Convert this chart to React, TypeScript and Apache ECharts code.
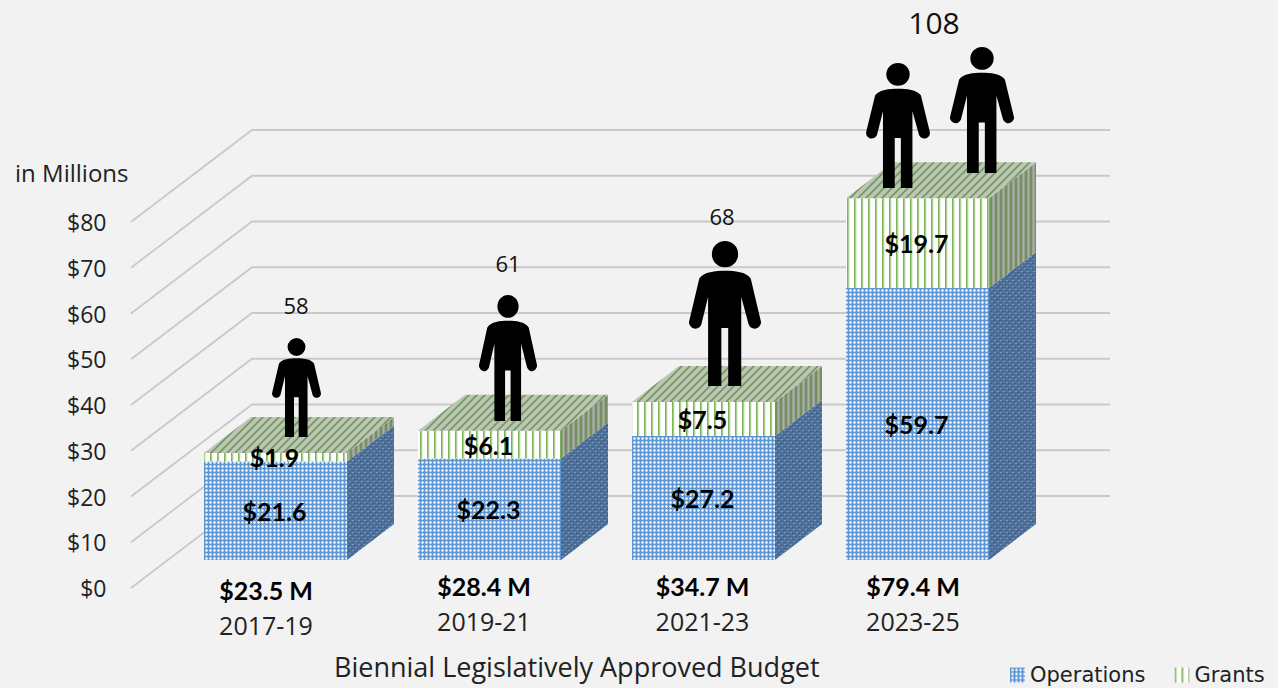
import React, { useEffect, useRef } from "react";
import * as echarts from "echarts";

const categories = ["2017-19", "2019-21", "2021-23", "2023-25"];
const operations = [21.6, 22.3, 27.2, 59.7];
const grants = [1.9, 6.1, 7.5, 19.7];
const totals = [23.5, 28.4, 34.7, 79.4];
const staffCounts = [58, 61, 68, 108];
const yTicks = [0, 10, 20, 30, 40, 50, 60, 70, 80];

// decoration layout (not data): figures and their count captions
const figures = [
  { x: 272, y: 338, w: 49, h: 99 },
  { x: 479, y: 295, w: 58, h: 126 },
  { x: 689, y: 241, w: 72, h: 145 },
  { x: 866, y: 63, w: 64, h: 125 },
  { x: 950, y: 47, w: 64, h: 126 },
];
const captions = [
  { x: 296, y: 305, size: 22 },
  { x: 508, y: 263, size: 22 },
  { x: 722, y: 216, size: 22 },
  { x: 934, y: 22, size: 30 },
];
const totalShift = [19, 11, 2, 9];

const SANS = '"Open Sans", sans-serif';
const BOLD = 'Lato, sans-serif';
const LEGEND_FONT = '"DejaVu Sans", sans-serif';
const DEPTH_X = 47;
const DEPTH_Y = 36;

const personPath =
  "M20 11.5 A11.5 11.5 0 1 1 43 11.5 A11.5 11.5 0 1 1 20 11.5 Z " +
  "M31.5 26 C40 26 50 27 54 32.7 L62.6 69 A5.4 5.4 0 0 1 52.2 73 L45.7 49 L45.7 126.7 L34.3 126.7 L34.3 76 L28.3 76 L28.3 126.7 L16.7 126.7 L16.7 49 L10.8 73 A5.4 5.4 0 0 1 0.4 69 L9 32.7 C13 27 23 26 31.5 26 Z";
echarts.graphic.registerShape("person", echarts.graphic.extendPath(personPath, {}) as any);

function tile(size: number, draw: (c: CanvasRenderingContext2D) => void) {
  const canvas = document.createElement("canvas");
  canvas.width = size;
  canvas.height = size;
  draw(canvas.getContext("2d") as CanvasRenderingContext2D);
  return { image: canvas, repeat: "repeat", imageWidth: size, imageHeight: size } as any;
}

function makePatterns() {
  const opsFront = tile(4, (c) => {
    c.fillStyle = "#8ab3df";
    c.fillRect(0, 0, 4, 4);
    c.fillStyle = "#5f96d0";
    c.fillRect(0, 0, 1, 4);
    c.fillRect(0, 0, 4, 1);
    c.fillStyle = "#f4f8fc";
    c.fillRect(2, 2, 1, 1);
    c.fillStyle = "#d5e4f4";
    c.fillRect(1, 2, 1, 1);
    c.fillRect(2, 1, 1, 1);
    c.fillRect(3, 2, 1, 1);
    c.fillRect(2, 3, 1, 1);
  });
  const opsSide = tile(6, (c) => {
    c.fillStyle = "#4f7199";
    c.fillRect(0, 0, 6, 6);
    c.fillStyle = "#7a96b8";
    c.fillRect(1, 1, 2, 1);
    c.fillRect(4, 4, 2, 1);
    c.fillStyle = "#3c5f8e";
    c.fillRect(3, 2, 2, 1);
    c.fillRect(0, 5, 2, 1);
  });
  const grantFront = tile(7, (c) => {
    c.fillStyle = "#ffffff";
    c.fillRect(0, 0, 7, 7);
    c.fillStyle = "#7cb356";
    c.fillRect(0, 0, 1, 7);
    c.fillStyle = "#a9cf92";
    c.fillRect(1, 0, 1, 7);
    c.fillStyle = "#e6f1de";
    c.fillRect(2, 0, 1, 7);
  });
  const grantSide = tile(5, (c) => {
    c.fillStyle = "#979f92";
    c.fillRect(0, 0, 5, 5);
    c.fillStyle = "#74905f";
    c.fillRect(0, 0, 2, 5);
    c.fillStyle = "#adb0a9";
    c.fillRect(3, 0, 1, 5);
  });
  const grantTop = tile(8, (c) => {
    c.fillStyle = "#bfc4b9";
    c.fillRect(0, 0, 8, 8);
    c.strokeStyle = "#6f9a58";
    c.lineWidth = 1.6;
    for (let k = -8; k <= 16; k += 8) {
      c.beginPath();
      c.moveTo(k - 1, 9);
      c.lineTo(k + 9, -1);
      c.stroke();
    }
  });
  return { opsFront, opsSide, grantFront, grantSide, grantTop };
}

function pts(a: number[][]) {
  return a.map((p) => [p[0], p[1]]);
}

function boxSeries(name: string, values: number[], bases: number[], front: any, side: any, top: any) {
  return {
    name,
    type: "custom",
    xAxisIndex: 1,
    yAxisIndex: 1,
    itemStyle: { color: front },
    encode: { x: 0, y: [1, 2] },
    data: values.map((v, i) => [i, bases[i], bases[i] + v, v]),
    renderItem: (_p: any, api: any) => {
      const i = api.value(0);
      const [cx, y0] = api.coord([i, api.value(1)]);
      const [, y1] = api.coord([i, api.value(2)]);
      const half = (api.size([1, 0])[0] * 143) / 214 / 2;
      const l = cx - half;
      const r = cx + half;
      const children: any[] = [
        {
          type: "polygon",
          shape: { points: pts([[r, y0], [r + DEPTH_X, y0 - DEPTH_Y], [r + DEPTH_X, y1 - DEPTH_Y], [r, y1]]) },
          style: { fill: side },
        },
        {
          type: "polygon",
          shape: { points: pts([[l, y0], [r, y0], [r, y1], [l, y1]]) },
          style: { fill: front },
        },
      ];
      if (top) {
        children.push({
          type: "polygon",
          shape: { points: pts([[l, y1], [r, y1], [r + DEPTH_X, y1 - DEPTH_Y], [l + DEPTH_X, y1 - DEPTH_Y]]) },
          style: { fill: top },
        });
      }
      children.push({
        type: "text",
        x: cx - 1,
        y: (y0 + y1) / 2,
        z2: 10,
        style: {
          text: "$" + api.value(3).toFixed(1),
          fill: "#000",
          fontFamily: BOLD,
          fontWeight: "bold",
          fontSize: 25,
          align: "center",
          verticalAlign: "middle",
        },
      });
      return { type: "group", children };
    },
  };
}

export default function App() {
  const ref = useRef<HTMLDivElement>(null);
  useEffect(() => {
    document.body.style.margin = "0";
    document.body.style.overflow = "hidden";
    const chart = echarts.init(ref.current as HTMLDivElement, undefined, { renderer: "svg" });
    const p = makePatterns();
    const rich: any = {};
    categories.forEach((_, i) => {
      rich["t" + i] = {
        fontFamily: BOLD,
        fontWeight: "bold",
        fontSize: 25,
        lineHeight: 35,
        color: "#000",
        padding: [i === 0 ? 8 : 0, totalShift[i], 0, 0],
      };
      rich["y" + i] = {
        fontFamily: SANS,
        fontSize: 25,
        lineHeight: 35,
        color: "#222",
        padding: [i === 0 ? 8 : 0, totalShift[i], 0, 0],
      };
    });
    chart.setOption({
      animation: false,
      backgroundColor: "#f2f2f2",
      title: {
        text: "Biennial Legislatively Approved Budget",
        left: 329,
        top: 648,
        textStyle: { fontFamily: SANS, fontWeight: "normal", fontSize: 27, color: "#222" },
      },
      legend: {
        data: ["Operations", "Grants"],
        left: 1005,
        top: 659,
        width: 400,
        itemWidth: 15,
        itemHeight: 15,
        itemGap: 29,
        icon: "rect",
        textStyle: { fontFamily: LEGEND_FONT, fontSize: 21, lineHeight: 22, color: "#222" },
      },
      grid: [
        { left: 168.5, width: 856, top: 222, height: 366 },
        { left: 168.5, width: 856, top: 195.6, height: 364.4 },
      ],
      xAxis: [
        {
          type: "category",
          gridIndex: 0,
          data: categories,
          axisLine: { show: false },
          axisTick: { show: false },
          axisLabel: {
            interval: 0,
            margin: -20,
            formatter: (v: string, i: number) => `{t${i}|$${totals[i].toFixed(1)} M}\n{y${i}|${v}}`,
            rich,
          },
        },
        { type: "category", gridIndex: 1, data: categories, show: false },
      ],
      yAxis: [
        {
          type: "value",
          gridIndex: 0,
          min: 0,
          max: 80,
          interval: 10,
          name: "in Millions",
          nameGap: 38,
          nameTextStyle: { fontFamily: SANS, fontSize: 24, color: "#222", align: "right", padding: [0, 40, 0, 0] },
          axisLine: { show: false },
          axisTick: { show: false },
          splitLine: { show: false },
          axisLabel: {
            margin: 62,
            fontFamily: SANS,
            fontSize: 23,
            color: "#222",
            formatter: (v: number) => "$" + v,
          },
        },
        { type: "value", gridIndex: 1, min: 0, max: 80, interval: 10, show: false },
      ],
      graphic: [
        ...figures.map((f) => ({
          type: "person",
          x: f.x,
          y: f.y,
          scaleX: f.w / 63,
          scaleY: f.h / 126.7,
          z: 20,
          style: { fill: "#000" },
        })),
        ...captions.map((c, i) => ({
          type: "text",
          x: c.x,
          y: c.y,
          z: 20,
          style: {
            text: String(staffCounts[i]),
            fill: "#111",
            fontFamily: SANS,
            fontSize: c.size,
            align: "center",
            verticalAlign: "middle",
          },
        })),
      ],
      series: [
        {
          type: "custom",
          name: "walls",
          xAxisIndex: 0,
          yAxisIndex: 0,
          silent: true,
          encode: { x: 0, y: 1 },
          data: yTicks.map((t) => [0, t]),
          renderItem: (_p: any, api: any) => {
            const y = api.coord([0, api.value(1)])[1];
            return {
              type: "polyline",
              shape: { points: [[131, y], [252, y - 92], [1110, y - 92]] },
              style: { stroke: "#c9c9c9", lineWidth: 1.8, fill: "none" },
            };
          },
        },
        boxSeries("Operations", operations, [0, 0, 0, 0], p.opsFront, p.opsSide, null),
        boxSeries("Grants", grants, operations, p.grantFront, p.grantSide, p.grantTop),
      ],
    } as any);
    return () => chart.dispose();
  }, []);
  return <div ref={ref} style={{ position: "absolute", left: 0, top: 0, width: 1278, height: 688 }} />;
}
